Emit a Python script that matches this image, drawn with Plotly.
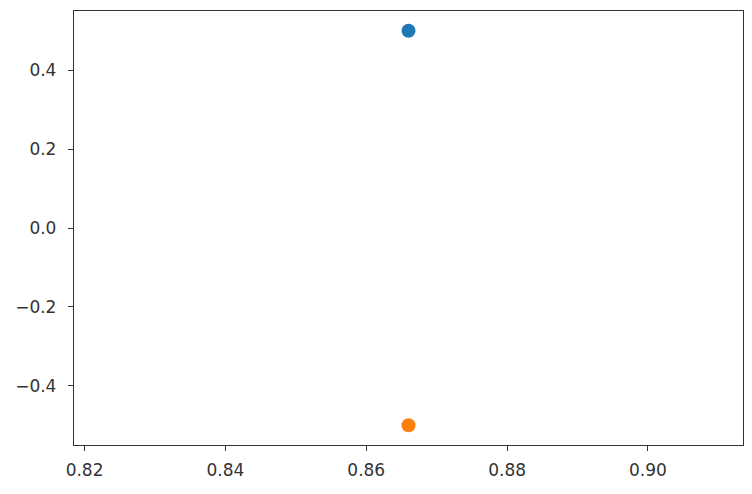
import plotly.graph_objs as go

# two points, same x
x_vals = [0.866, 0.866]
y_vals = [0.5, -0.5]
colors = ["#1f77b4", "#ff7f0e"]

x_ticks = [0.82, 0.84, 0.86, 0.88, 0.90]
y_ticks = [-0.4, -0.2, 0.0, 0.2, 0.4]

fig = go.Figure()
for xv, yv, c in zip(x_vals, y_vals, colors):
    fig.add_trace(go.Scatter(x=[xv], y=[yv], mode="markers",
                             marker=dict(color=c, size=14), showlegend=False))

axis_style = dict(showgrid=False, zeroline=False, showline=True, linecolor="#333333",
                  linewidth=1.3, mirror=True, ticks="outside", ticklen=5, tickwidth=1.2,
                  tickcolor="#333333", tickfont=dict(family="DejaVu Sans", size=17, color="#333333"))

fig.update_xaxes(range=[0.8185, 0.9135], tickvals=x_ticks, tickformat=".2f",
                 ticklabelstandoff=4, **axis_style)
fig.update_yaxes(range=[-0.55, 0.55], tickvals=y_ticks, tickformat=".1f",
                 ticklabelstandoff=8, **axis_style)

# page body has ~8px margin, so figure is a bit smaller than the window
fig.update_layout(width=744, height=486, margin=dict(l=66, r=9, t=3, b=49),
                  plot_bgcolor="white", paper_bgcolor="white")

fig.write_html("out.html")
